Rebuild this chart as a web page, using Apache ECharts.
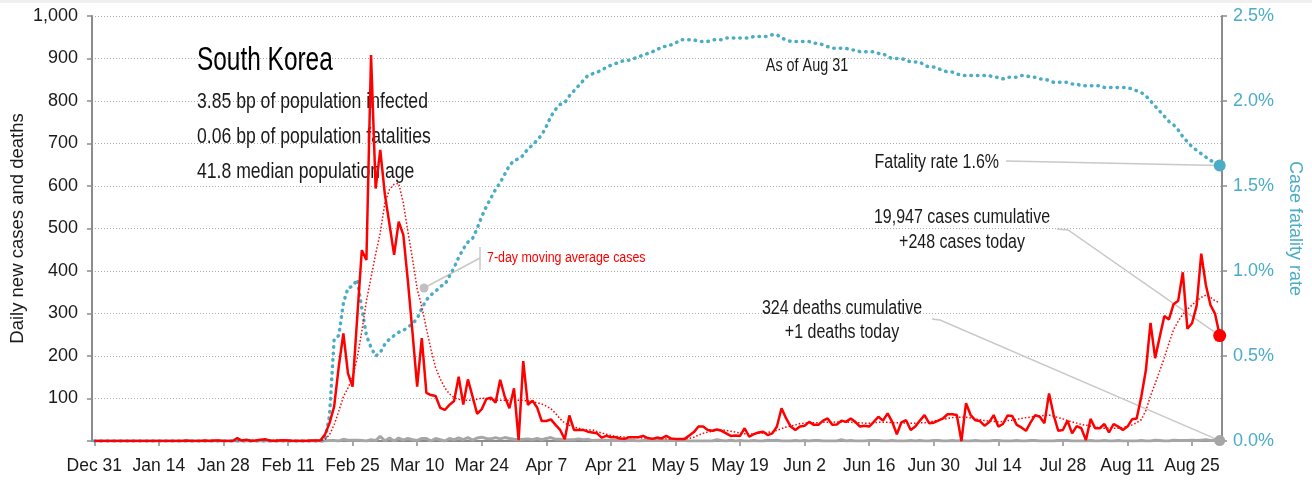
<!DOCTYPE html>
<html>
<head>
<meta charset="utf-8">
<script src="https://cdn.jsdelivr.net/npm/echarts@6/dist/echarts.min.js"></script>
<style>
  html, body { margin: 0; padding: 0; background: #fff; }
  #chart { width: 1312px; height: 480px; }
</style>
</head>
<body>
<div id="chart"></div>
<script>
// one tick label every 14 days, starting Dec 31
const tickLabels = ['Dec 31', 'Jan 14', 'Jan 28', 'Feb 11', 'Feb 25', 'Mar 10', 'Mar 24', 'Apr 7', 'Apr 21',
  'May 5', 'May 19', 'Jun 2', 'Jun 16', 'Jun 30', 'Jul 14', 'Jul 28', 'Aug 11', 'Aug 25']

// daily values, Dec 31 .. Aug 31
const cases = [
  0, 0, 0, 0, 0, 0, 0, 0, 0, 0,
  0, 0, 0, 0, 0, 0, 0, 0, 0, 0,
  1, 0, 0, 0, 1, 0, 1, 1, 0, 0,
  0, 7, 1, 3, 0, 1, 3, 4, 1, 0,
  1, 2, 1, 0, 0, 0, 0, 1, 1, 1,
  15, 42, 81, 175, 253, 159, 128, 290, 449, 426,
  908, 594, 685, 580, 510, 438, 516, 485, 375, 254,
  128, 242, 113, 108, 106, 78, 73, 85, 94, 151,
  86, 145, 105, 64, 75, 99, 102, 90, 144, 104,
  77, 124, 2, 188, 85, 95, 79, 47, 47, 51,
  38, 26, 4, 60, 26, 26, 26, 22, 20, 18,
  8, 12, 9, 9, 6, 5, 9, 9, 9, 12,
  7, 5, 8, 6, 12, 6, 5, 5, 5, 13,
  21, 34, 34, 26, 24, 27, 24, 18, 12, 13,
  12, 30, 10, 16, 20, 22, 14, 18, 34, 77,
  53, 34, 26, 34, 36, 45, 38, 38, 48, 53,
  38, 39, 48, 45, 53, 45, 34, 36, 34, 45,
  57, 48, 65, 45, 16, 44, 49, 26, 34, 48,
  61, 42, 43, 48, 53, 63, 63, 61, 0, 89,
  61, 49, 47, 36, 44, 61, 34, 40, 60, 59,
  38, 32, 24, 44, 61, 57, 42, 112, 61, 24,
  26, 48, 18, 35, 30, 2, 52, 30, 30, 40,
  20, 40, 34, 26, 34, 51, 53, 104, 167, 278,
  195, 245, 294, 286, 322, 330, 397, 264, 277, 318,
  441, 367, 320, 299, 248
]

const avgCases = [
  0, 0, 0, 0, 0, 0, 0, 0, 0, 0,
  0, 0, 0, 0, 0, 0, 0, 0, 0, 0,
  0, 0, 0, 0, 0, 0, 0, 0, 0, 0,
  0, 1, 1, 2, 2, 2, 2, 3, 2, 2,
  2, 2, 2, 1, 1, 1, 1, 1, 1, 1,
  3, 15, 38, 70, 104, 125, 150, 195, 258, 330,
  385, 440, 490, 560, 592, 604, 606, 560, 492, 428,
  358, 316, 265, 215, 172, 146, 125, 111, 102, 98,
  96, 96, 96, 98, 101, 100, 97, 96, 96, 96,
  96, 96, 96, 96, 94, 92, 90, 87, 82, 76,
  65, 52, 42, 37, 33, 30, 27, 26, 26, 22,
  19, 16, 13, 11, 10, 9, 9, 8, 8, 7,
  7, 6, 6, 6, 5, 5, 5, 5, 6, 6,
  9, 14, 18, 21, 23, 25, 26, 25, 23, 21,
  19, 17, 16, 17, 18, 19, 20, 22, 25, 29,
  33, 35, 38, 41, 42, 43, 43, 43, 44, 44,
  44, 45, 45, 45, 44, 43, 43, 42, 42, 43,
  44, 44, 44, 43, 43, 43, 42, 42, 42, 43,
  43, 45, 47, 49, 51, 53, 55, 56, 56, 56,
  54, 52, 50, 48, 47, 46, 45, 46, 48, 49,
  51, 53, 55, 56, 58, 59, 60, 61, 58, 55,
  52, 48, 45, 42, 39, 37, 35, 33, 31, 30,
  30, 30, 30, 32, 34, 38, 43, 50, 72, 106,
  135, 165, 196, 230, 262, 282, 298, 310, 320, 330,
  338, 343, 338, 330, 325
]

const deaths = [
  0, 0, 0, 0, 0, 0, 0, 0, 0, 0,
  0, 0, 0, 0, 0, 0, 0, 0, 0, 0,
  0, 0, 0, 0, 0, 0, 0, 0, 0, 0,
  0, 0, 0, 0, 0, 0, 0, 0, 0, 0,
  0, 0, 0, 0, 0, 0, 0, 0, 0, 0,
  0, 1, 1, 0, 4, 2, 2, 2, 1, 0,
  3, 1, 11, 0, 7, 0, 7, 2, 6, 3,
  1, 6, 6, 0, 6, 3, 0, 6, 3, 7,
  3, 8, 2, 7, 9, 6, 5, 8, 5, 8,
  6, 4, 3, 4, 5, 3, 6, 3, 6, 8,
  4, 4, 3, 3, 3, 5, 3, 4, 1, 2,
  2, 2, 1, 1, 2, 0, 2, 1, 0, 1,
  2, 1, 1, 2, 0, 2, 2, 1, 1, 0,
  0, 0, 0, 0, 0, 3, 1, 0, 2, 0,
  1, 0, 0, 1, 0, 0, 2, 1, 2, 0,
  0, 0, 1, 0, 1, 0, 1, 1, 0, 0,
  0, 0, 3, 0, 1, 0, 0, 0, 1, 1,
  1, 0, 0, 1, 0, 0, 0, 1, 0, 1,
  0, 0, 1, 1, 0, 0, 1, 0, 1, 0,
  0, 1, 0, 0, 0, 1, 1, 0, 0, 0,
  1, 0, 0, 1, 1, 0, 0, 0, 0, 1,
  1, 1, 0, 0, 0, 0, 1, 0, 0, 1,
  0, 0, 1, 0, 0, 0, 0, 1, 0, 0,
  2, 1, 0, 0, 2, 1, 1, 1, 2, 1,
  2, 3, 1, 2, 1
]

// case fatality rate, percent
const fatalityRate = [
  0, 0, 0, 0, 0, 0, 0, 0, 0, 0,
  0, 0, 0, 0, 0, 0, 0, 0, 0, 0,
  0, 0, 0, 0, 0, 0, 0, 0, 0, 0,
  0, 0, 0, 0, 0, 0, 0, 0, 0, 0,
  0, 0, 0, 0, 0, 0, 0, 0, 0, 0,
  0, 0.15, 0.60, 0.62, 0.81, 0.90, 0.91, 0.95, 0.78, 0.62,
  0.55, 0.50, 0.52, 0.57, 0.60, 0.62, 0.64, 0.65, 0.67, 0.69,
  0.72, 0.78, 0.83, 0.86, 0.88, 0.91, 0.92, 0.97, 1.02, 1.08,
  1.13, 1.17, 1.19, 1.25, 1.32, 1.38, 1.43, 1.48, 1.52, 1.57,
  1.62, 1.65, 1.66, 1.68, 1.72, 1.74, 1.77, 1.80, 1.85, 1.91,
  1.95, 1.98, 1.99, 2.03, 2.06, 2.09, 2.12, 2.15, 2.16, 2.17,
  2.18, 2.20, 2.21, 2.22, 2.23, 2.24, 2.24, 2.25, 2.26, 2.27,
  2.28, 2.29, 2.30, 2.32, 2.32, 2.33, 2.34, 2.36, 2.36, 2.36,
  2.36, 2.35, 2.35, 2.35, 2.36, 2.36, 2.36, 2.37, 2.37, 2.37,
  2.37, 2.37, 2.37, 2.38, 2.38, 2.38, 2.38, 2.39, 2.39, 2.37,
  2.36, 2.35, 2.35, 2.35, 2.35, 2.35, 2.34, 2.34, 2.33, 2.32,
  2.31, 2.31, 2.31, 2.31, 2.30, 2.30, 2.29, 2.29, 2.29, 2.29,
  2.28, 2.28, 2.26, 2.25, 2.25, 2.25, 2.24, 2.23, 2.23, 2.23,
  2.21, 2.20, 2.20, 2.19, 2.18, 2.17, 2.17, 2.16, 2.15, 2.15,
  2.15, 2.15, 2.15, 2.15, 2.15, 2.14, 2.14, 2.13, 2.14, 2.14,
  2.14, 2.15, 2.15, 2.14, 2.14, 2.13, 2.13, 2.12, 2.11, 2.11,
  2.11, 2.11, 2.10, 2.10, 2.09, 2.09, 2.09, 2.09, 2.09, 2.08,
  2.08, 2.08, 2.08, 2.08, 2.08, 2.07, 2.06, 2.05, 2.03, 2.00,
  1.97, 1.94, 1.91, 1.88, 1.86, 1.83, 1.79, 1.76, 1.73, 1.71,
  1.69, 1.67, 1.65, 1.64, 1.62
]

const FONT = "'Liberation Sans', Arial, sans-serif"
const RED = '#ff0000'
const BLUE = '#4bacc6'
const GREY = '#a6a6a6'
const AXIS = '#8c8c8c'
const TEXT = '#1a1a1a'
const LEADER = '#c8c8c8'

const days = cases.map((v, i) => String(i))
const last = cases.length - 1

const endDot = (color, size, value) => ({
  symbol: 'circle',
  symbolSize: size,
  silent: true,
  animation: false,
  itemStyle: { color: color },
  label: { show: false },
  data: [{ coord: [last, value] }]
})

const chart = echarts.init(document.getElementById('chart'))
const option = {
  animation: false,
  textStyle: { fontFamily: FONT },
  grid: { left: 92, right: 90, top: 16, bottom: 39, containLabel: false, outerBoundsMode: 'none' },
  xAxis: {
    type: 'category',
    data: days,
    boundaryGap: true,
    axisLine: { lineStyle: { color: AXIS, width: 2 } },
    axisTick: { show: true, alignWithLabel: true, interval: 13, length: 5, lineStyle: { color: AXIS, width: 1.5 } },
    axisLabel: {
      interval: 13,
      margin: 16,
      fontSize: 17.5,
      color: TEXT,
      fontFamily: FONT,
      formatter: (v, i) => tickLabels[i / 14]
    },
    splitLine: { show: false }
  },
  yAxis: [
    {
      type: 'value',
      min: 0,
      max: 1000,
      interval: 100,
      name: 'Daily new cases and deaths',
      nameLocation: 'middle',
      nameRotate: 90,
      nameGap: 65,
      nameMoveOverlap: false,
      nameTextStyle: { fontSize: 18.5, color: TEXT, fontFamily: FONT },
      axisLine: { show: true, lineStyle: { color: AXIS, width: 2 } },
      axisTick: { show: true, length: 5, lineStyle: { color: AXIS, width: 1.5 } },
      axisLabel: {
        fontSize: 18,
        margin: 14,
        color: TEXT,
        fontFamily: FONT,
        formatter: v => (v === 0 ? '' : v.toLocaleString('en-US'))
      },
      splitLine: { lineStyle: { color: '#ababab', width: 1, type: [1, 2] } }
    },
    {
      type: 'value',
      position: 'right',
      min: 0,
      max: 2.5,
      interval: 0.5,
      name: 'Case fatality rate',
      nameLocation: 'middle',
      nameRotate: -90,
      nameGap: 64,
      nameTextStyle: { fontSize: 18, color: BLUE, fontFamily: FONT },
      axisLine: { show: true, lineStyle: { color: AXIS, width: 2 } },
      axisTick: { show: true, length: 5, lineStyle: { color: AXIS, width: 1.5 } },
      axisLabel: {
        fontSize: 18,
        margin: 11,
        color: BLUE,
        fontFamily: FONT,
        formatter: v => v.toFixed(1) + '%'
      },
      splitLine: { show: false }
    }
  ],
  series: [
    {
      name: 'Deaths',
      type: 'line',
      data: deaths,
      showSymbol: false,
      lineStyle: { color: GREY, width: 3 },
      z: 2,
      markPoint: endDot(GREY, 11, deaths[last])
    },
    {
      name: 'Case fatality rate',
      type: 'line',
      yAxisIndex: 1,
      data: fatalityRate,
      showSymbol: false,
      lineStyle: { color: BLUE, width: 3.5, type: [0.5, 6], cap: 'round' },
      z: 3,
      markPoint: endDot(BLUE, 12, fatalityRate[last])
    },
    {
      name: '7-day moving average cases',
      type: 'line',
      data: avgCases,
      showSymbol: false,
      lineStyle: { color: RED, width: 1.5, type: [1.5, 2] },
      z: 4
    },
    {
      name: 'Daily new cases',
      type: 'line',
      data: cases,
      showSymbol: false,
      lineStyle: { color: RED, width: 2.5 },
      z: 5,
      markPoint: endDot(RED, 13, cases[last])
    }
  ]
}
chart.setOption(option)

// annotations: text blocks and leader lines to the last points
const px = (value, axis) => chart.convertToPixel({ xAxisIndex: 0, yAxisIndex: axis }, [last, value])
const pCases = px(cases[last], 0)
const pDeaths = px(deaths[last], 0)
const pRate = px(fatalityRate[last], 1)

// condensed look: draw the text narrower with scaleX
const txt = (x, y, text, size, color, align, squeeze) => ({
  type: 'text',
  z: 0,
  silent: true,
  x: x,
  y: y,
  scaleX: squeeze || 0.8,
  style: {
    x: 0, y: 0, text: text,
    font: size + 'px ' + FONT,
    fill: color,
    align: align, textAlign: align,
    verticalAlign: 'middle', textVerticalAlign: 'middle'
  }
})
const leader = pts => ({
  type: 'polyline',
  z: 1,
  silent: true,
  shape: { points: pts },
  style: { stroke: LEADER, lineWidth: 1.5, fill: null }
})

chart.setOption({
  graphic: [
    { type: 'rect', shape: { x: 0, y: 0, width: 1312, height: 3 }, style: { fill: '#f0f0f0' }, silent: true },
    txt(197, 61, 'South Korea', 33, '#000', 'left', 0.74),
    txt(197, 102, '3.85 bp of population infected', 22, TEXT, 'left'),
    txt(197, 137, '0.06 bp of population fatalities', 22, TEXT, 'left'),
    txt(197, 172, '41.8 median population age', 22, TEXT, 'left'),
    txt(807, 66, 'As of Aug 31', 18, TEXT, 'center'),
    txt(999, 162, 'Fatality rate 1.6%', 20, TEXT, 'right'),
    txt(962, 217, '19,947 cases cumulative', 20, TEXT, 'center'),
    txt(962, 242, '+248 cases today', 20, TEXT, 'center'),
    txt(842, 308, '324 deaths cumulative', 20, TEXT, 'center'),
    txt(842, 332, '+1 deaths today', 20, TEXT, 'center'),
    txt(487, 258, '7-day moving average cases', 15.5, RED, 'left'),
    leader([[1006, 161], pRate]),
    leader([[1057, 229], [1068, 230], pCases]),
    leader([[932, 319], [940, 320], pDeaths]),
    leader([[424, 288], [480, 258]]),
    leader([[480, 247], [480, 270]]),
    { type: 'circle', z: 1, silent: true, shape: { cx: 424, cy: 288, r: 4.5 }, style: { fill: '#c0c0c0' } }
  ]
})

window.addEventListener('resize', function () {
  chart.resize()
})
</script>
</body>
</html>
